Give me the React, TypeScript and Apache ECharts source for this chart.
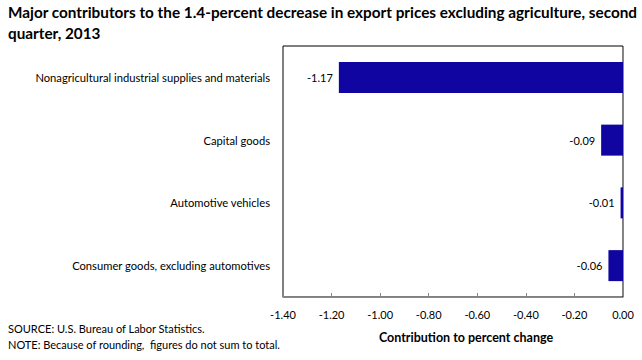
import React, { useEffect, useRef } from "react";
import * as echarts from "echarts";

const categories = [
  "Nonagricultural industrial supplies and materials",
  "Capital goods",
  "Automotive vehicles",
  "Consumer goods, excluding automotives",
];
const values = [-1.17, -0.09, -0.01, -0.06];
const titleText =
  "Major contributors to the 1.4-percent decrease in export prices excluding agriculture, second\nquarter, 2013";
const sourceText =
  "SOURCE: U.S. Bureau of Labor Statistics.\nNOTE: Because of rounding,  figures do not sum to total.";
const axisName = "Contribution to percent change";
const FONT = "Lato, 'Open Sans', sans-serif";

export default function App() {
  const ref = useRef<HTMLDivElement>(null);
  useEffect(() => {
    if (!ref.current) return;
    const chart = echarts.init(ref.current, undefined, { renderer: "svg" });
    chart.setOption({
      animation: false,
      textStyle: { fontFamily: FONT },
      title: [
        {
          text: titleText,
          left: 8,
          top: 1,
          padding: 0,
          textStyle: {
            fontFamily: FONT,
            fontSize: 15.3,
            fontWeight: "bold",
            color: "#000",
            lineHeight: 21,
          },
        },
        {
          text: sourceText,
          left: 8,
          top: 320,
          padding: 0,
          textStyle: {
            fontFamily: FONT,
            fontSize: 11,
            fontWeight: "normal",
            color: "#000",
            lineHeight: 16,
          },
        },
      ],
      grid: {
        left: 283,
        right: 19,
        top: 46,
        bottom: 63,
        show: true,
        borderColor: "#000",
        borderWidth: 1,
        containLabel: false,
      },
      xAxis: {
        type: "value",
        min: -1.4,
        max: 0,
        interval: 0.2,
        axisLine: { show: true, onZero: false, lineStyle: { color: "#888" } },
        axisTick: { show: true, inside: true, length: 4, lineStyle: { color: "#888" } },
        splitLine: { show: false },
        axisLabel: {
          color: "#000",
          fontSize: 11,
          fontFamily: FONT,
          margin: 12,
          formatter: (v: number) => v.toFixed(2),
        },
        name: axisName,
        nameLocation: "middle",
        nameGap: 34,
        nameTextStyle: {
          color: "#000",
          fontSize: 12.5,
          fontWeight: "bold",
          fontFamily: FONT,
          padding: [0, 0, 0, 26],
        },
      },
      yAxis: {
        type: "category",
        data: categories,
        inverse: true,
        axisLine: { show: false },
        axisTick: { show: false },
        axisLabel: { color: "#000", fontSize: 11.2, fontFamily: FONT, margin: 13 },
      },
      series: [
        {
          type: "bar",
          data: values,
          barWidth: 31,
          itemStyle: { color: "#1005A0" },
          label: {
            show: true,
            position: "left",
            distance: 6,
            color: "#000",
            fontSize: 11,
            fontFamily: FONT,
            formatter: (p: any) => Number(p.value).toFixed(2),
          },
          markLine: {
            silent: true,
            symbol: "none",
            label: { show: false },
            lineStyle: { color: "#888", type: "solid", width: 1 },
            data: [{ xAxis: 0 }],
          },
        },
      ],
    });
    return () => chart.dispose();
  }, []);
  return <div ref={ref} style={{ width: 642, height: 360, position: "absolute", left: 0, top: 0 }} />;
}
